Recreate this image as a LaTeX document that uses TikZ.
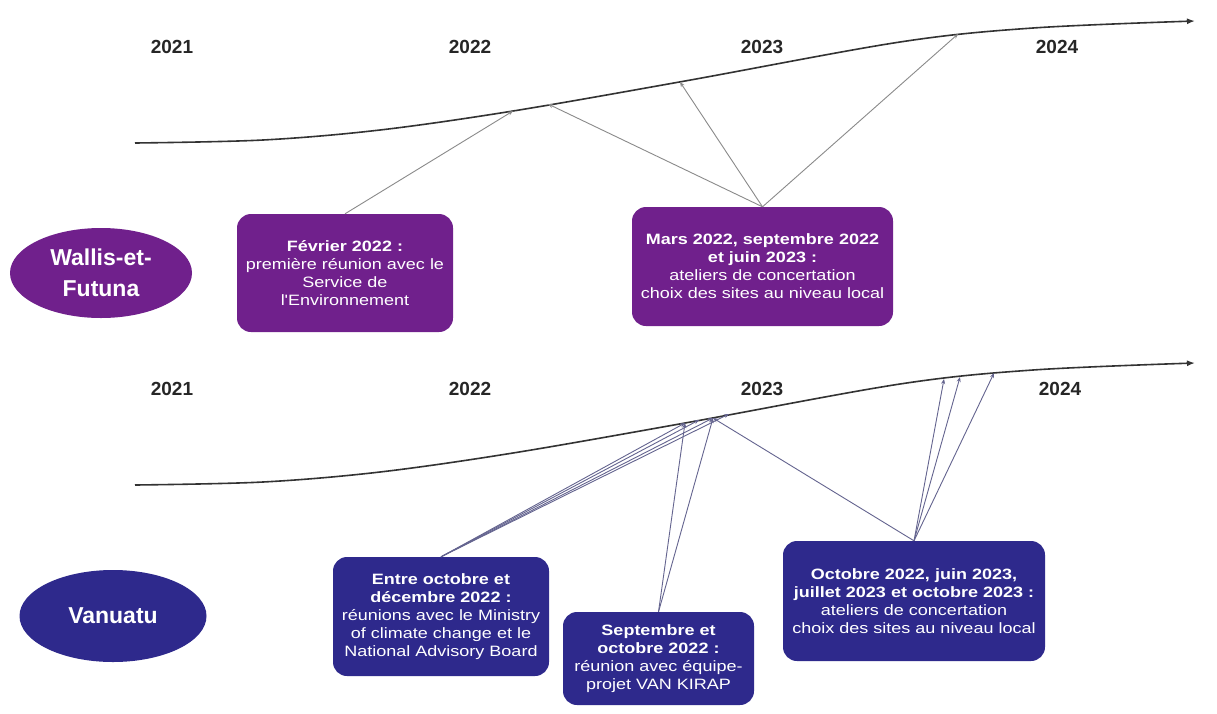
\documentclass[tikz,border=0pt]{standalone}
\usepackage{fontspec}
\setmainfont{Liberation Sans}
\newfontfamily\boxfont[FakeStretch=1.2]{Liberation Sans}
\usetikzlibrary{arrows.meta,shapes.geometric}
\definecolor{wfpurple}{HTML}{70208C}
\definecolor{vublue}{HTML}{2E298C}
\definecolor{tlgray}{HTML}{333333}
\definecolor{congray}{HTML}{8A8A8A}
\definecolor{conblue}{HTML}{64648F}
\begin{document}
\begin{tikzpicture}[x=1pt,y=-1pt,
  yearlbl/.style={font=\fontsize{19}{22}\selectfont\bfseries, text=black!85},
  timeline/.style={draw=tlgray, line width=1.6pt, -{Latex[length=8pt,width=6pt]}},
  region/.style={ellipse, fill=#1, text=white, font=\fontsize{23}{31}\selectfont\bfseries, align=center, inner sep=0pt},
  evbox/.style={rounded corners=14pt, fill=#1, text=white, font=\boxfont\fontsize{15}{18}\selectfont, align=center, inner sep=0pt},
  conn/.style={draw=#1, line width=0.9pt, -{Stealth[length=5pt,width=4pt]}},
]
\useasboundingbox[fill=white] (0,0) rectangle (1217,713);

% ---------- Wallis-et-Futuna ----------
\draw[timeline] plot[smooth, tension=0.55] coordinates {(135,143) (263,140) (380,130) (513,111) (685,81) (900,42) (1033,28) (1195,21)};
\node[yearlbl] (wy1) at (172,47) {2021};
\node[yearlbl] (wy2) at (470,47) {2022};
\node[yearlbl] (wy3) at (762,47) {2023};
\node[yearlbl] (wy4) at (1057,47) {2024};

\coordinate (w1) at (513,111);
\coordinate (w2) at (548,104);
\coordinate (w3) at (680,82);
\coordinate (w4) at (958,34);

\node[region=wfpurple, minimum width=182pt, minimum height=90pt] (wf) at (101,273) {Wallis-et-\\Futuna};
\node[evbox=wfpurple, minimum width=216pt, minimum height=118pt] (feb) at (345,273)
  {\textbf{Février 2022 :}\\première réunion avec le\\Service de\\l'Environnement};
\node[evbox=wfpurple, minimum width=261pt, minimum height=119pt] (mars) at (762.5,266.5)
  {\textbf{Mars 2022, septembre 2022}\\\textbf{et juin 2023 :}\\ateliers de concertation\\choix des sites au niveau local};

\draw[conn=congray] (feb.north) -- (w1);
\draw[conn=congray] (mars.north) -- (w2);
\draw[conn=congray] (mars.north) -- (w3);
\draw[conn=congray] (mars.north) -- (w4);

% ---------- Vanuatu ----------
\begin{scope}[shift={(0,342)}]
\draw[timeline] plot[smooth, tension=0.55] coordinates {(135,143) (263,140) (380,130) (513,111) (685,81) (900,42) (1033,28) (1195,21)};
\end{scope}
\node[yearlbl] (vy1) at (172,389) {2021};
\node[yearlbl] (vy2) at (470,389) {2022};
\node[yearlbl] (vy3) at (762,389) {2023};
\node[yearlbl] (vy4) at (1060,389) {2024};

\coordinate (va) at (685,423);
\coordinate (vb) at (699,420);
\coordinate (vc) at (713,418);
\coordinate (vd) at (729,414);
\coordinate (ve) at (944,379);
\coordinate (vf) at (960,377);
\coordinate (vg) at (994,373);

\node[region=vublue, minimum width=187pt, minimum height=92pt] (vu) at (113,616) {Vanuatu};
\node[evbox=vublue, minimum width=216pt, minimum height=119pt] (entre) at (441,616.5)
  {\textbf{Entre octobre et}\\\textbf{décembre 2022 :}\\réunions avec le Ministry\\of climate change et le\\National Advisory Board};
\node[evbox=vublue, minimum width=191pt, minimum height=93pt] (sept) at (658.5,658.5)
  {\textbf{Septembre et}\\\textbf{octobre 2022 :}\\réunion avec équipe-\\projet VAN KIRAP};
\node[evbox=vublue, minimum width=262pt, minimum height=120pt] (oct) at (914,601)
  {\textbf{Octobre 2022, juin 2023,}\\\textbf{juillet 2023 et octobre 2023 :}\\ateliers de concertation\\choix des sites au niveau local};

\foreach \t in {va,vb,vc,vd} \draw[conn=conblue] (entre.north) -- (\t);
\foreach \t in {va,vc} \draw[conn=conblue] (sept.north) -- (\t);
\foreach \t in {vc,ve,vf,vg} \draw[conn=conblue] (oct.north) -- (\t);
\end{tikzpicture}
\end{document}
